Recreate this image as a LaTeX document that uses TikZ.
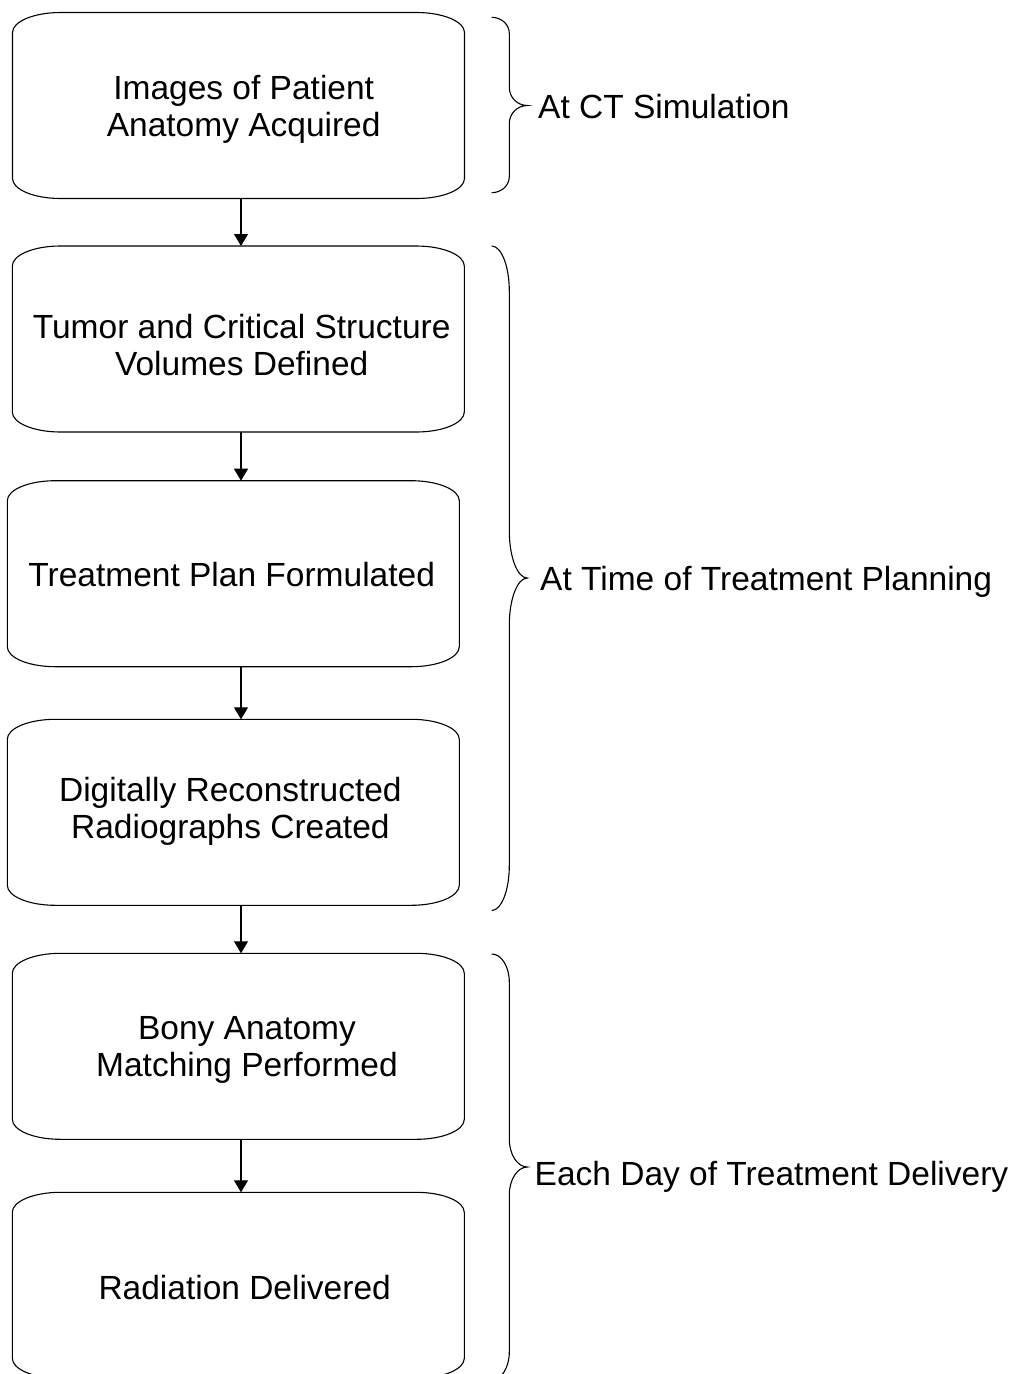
\documentclass[tikz,border=0pt]{standalone}
\usepackage{fontspec}
\newfontfamily\diagfont{Liberation Sans}
\usetikzlibrary{calc,arrows.meta}

% outline of a process box: straight sides with wide elliptical corners
\newcommand\procoutline[1]{%
  \draw[boxline]
    ($(#1.north west)+(0,20)$) .. controls +(0,-11.05) and +(-26.5,0) .. ($(#1.north west)+(48,0)$)
    -- ($(#1.north east)+(-48,0)$) .. controls +(26.5,0) and +(0,-11.05) .. ($(#1.north east)+(0,20)$)
    -- ($(#1.south east)+(0,-20)$) .. controls +(0,11.05) and +(26.5,0) .. ($(#1.south east)+(-48,0)$)
    -- ($(#1.south west)+(48,0)$) .. controls +(-26.5,0) and +(0,11.05) .. ($(#1.south west)+(0,-20)$)
    -- cycle;}

% curly brace: top, bottom, tip height, end curl, tip curl
\newcommand\phasebrace[5]{%
  \draw[bracestroke]
    (491.7,#1) .. controls +(9.7,0) and +(0,{-0.5523*#4}) .. (509.3,{#1+#4})
    -- (509.3,{#3-#5}) .. controls +(0,{0.5523*#5}) and +(-9.9,0) .. (527.3,#3)
    .. controls +(-9.9,0) and +(0,{-0.5523*#5}) .. (509.3,{#3+#5})
    -- (509.3,{#2-#4}) .. controls +(0,{0.5523*#4}) and +(9.7,0) .. (491.7,#2);}

\begin{document}
\begin{tikzpicture}[x=1pt,y=-1pt,
  boxline/.style={line width=1.1pt, line join=round},
  bracestroke/.style={line width=1.1pt},
  procbox/.style={draw=none, minimum width=452pt, minimum height=186pt,
                  inner sep=0pt, outer sep=0pt, anchor=north west},
  boxtext/.style={font=\diagfont\fontsize{33.5}{37}\selectfont, align=center,
                  inner sep=0pt, execute at begin node=\vphantom{fy},
                  execute at end node=\vphantom{fy}},
  phaselabel/.style={font=\diagfont\fontsize{33.5}{37}\selectfont,
                     anchor=base west, inner sep=0pt},
  flowarrow/.style={line width=1.1pt, -{Triangle[length=12pt,width=14pt]}}]

\useasboundingbox (0,0) rectangle (1017,1374);
\fill[white] (0,0) rectangle (1017,1374);

% process boxes
\node[procbox] (b1) at (12.5,12.5) {};
\node[procbox] (b2) at (12.3,246) {};
\node[procbox] (b3) at (7.3,480.7) {};
\node[procbox] (b4) at (7.3,719.3) {};
\node[procbox] (b5) at (12.3,953.3) {};
\node[procbox] (b6) at (12.3,1192.3) {};
\foreach \b in {b1,b2,b3,b4,b5,b6} {\procoutline{\b}}

% box captions
\node[boxtext] (t1) at (243.7,109.1) {Images of Patient\\Anatomy Acquired};
\node[boxtext] (t2) at (241.7,348.1) {Tumor and Critical Structure\\Volumes Defined};
\node[boxtext] (t3) at (231.7,578) {Treatment Plan Formulated};
\node[boxtext] (t4) at (230.4,811.5) {Digitally Reconstructed\\Radiographs Created};
\node[boxtext] (t5) at (247,1049.8) {Bony Anatomy\\Matching Performed};
\node[boxtext] (t6) at (244.7,1290.6) {Radiation Delivered};

% flow arrows along a common vertical axis
\coordinate (axis) at (241,0);
\draw[flowarrow] (b1.south -| axis) -- (b2.north -| axis);
\draw[flowarrow] (b2.south -| axis) -- (b3.north -| axis);
\draw[flowarrow] (b3.south -| axis) -- (b4.north -| axis);
\draw[flowarrow] (b4.south -| axis) -- (b5.north -| axis);
\draw[flowarrow] (b5.south -| axis) -- (b6.north -| axis);

% phase braces and their labels
\phasebrace{17.3}{192.7}{105.5}{16}{18}
\phasebrace{246}{910.5}{578}{45}{47}
\phasebrace{954}{1380}{1167}{28}{28}

\node[phaselabel] (p1) at (538,118.3) {At CT Simulation};
\node[phaselabel] (p2) at (540,590.5) {At Time of Treatment Planning};
\node[phaselabel] (p3) at (534.5,1185) {Each Day of Treatment Delivery};
\end{tikzpicture}
\end{document}
